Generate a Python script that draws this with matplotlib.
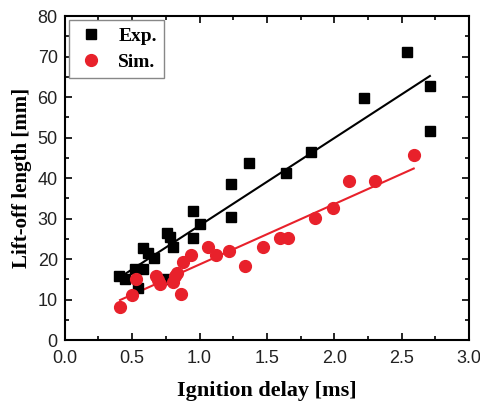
import matplotlib
matplotlib.use("Agg")
import matplotlib.pyplot as plt
import numpy as np
from matplotlib.ticker import MultipleLocator

exp_x = [2.54, 2.71, 2.71, 2.22, 1.83, 1.64, 1.37, 1.23, 1.23, 0.95, 1.00, 0.95,
         0.76, 0.78, 0.80, 0.58, 0.62, 0.66, 0.52, 0.58, 0.40, 0.45, 0.54, 0.74]
exp_y = [71.1, 62.7, 51.6, 59.8, 46.4, 41.2, 43.7, 38.5, 30.4, 31.9, 28.6, 25.2,
         26.4, 25.4, 23.0, 22.7, 21.5, 20.2, 17.5, 17.5, 15.8, 15.2, 12.8, 15.0]
sim_x = [0.41, 0.50, 0.53, 0.68, 0.69, 0.71, 0.80, 0.82, 0.83, 0.86, 0.88, 0.94,
         1.06, 1.12, 1.22, 1.34, 1.47, 1.60, 1.66, 1.86, 1.99, 2.11, 2.30, 2.59]
sim_y = [8.1, 11.1, 15.2, 15.8, 14.8, 13.8, 14.3, 15.8, 16.5, 11.4, 19.3, 21.0,
         23.0, 21.0, 22.0, 18.3, 23.0, 25.2, 25.2, 30.1, 32.6, 39.3, 39.3, 45.7]

exp_fit = [21.6, 6.7]   # slope, intercept
sim_fit = [14.9, 3.8]

x_ticks = [0.0, 0.5, 1.0, 1.5, 2.0, 2.5, 3.0]
x_ticklabels = ["0.0", "0.5", "1.0", "1.5", "2.0", "2.5", "3.0"]
y_ticks = [0, 10, 20, 30, 40, 50, 60, 70, 80]

red = "#e8212b"

fig = plt.figure(figsize=(4.8, 4.05), dpi=100)
ax = fig.add_axes([0.135, 0.160, 0.842, 0.800])

ex = np.array([min(exp_x), max(exp_x)])
sx = np.array([min(sim_x), max(sim_x)])
ax.plot(ex, np.polyval(exp_fit, ex), color="black", lw=1.5, zorder=2)
ax.plot(sx, np.polyval(sim_fit, sx), color=red, lw=1.5, zorder=2)

ax.plot(exp_x, exp_y, ls="none", marker="s", ms=7, color="black", label="Exp.", zorder=3)
ax.plot(sim_x, sim_y, ls="none", marker="o", ms=8.5, color=red, mec=red, label="Sim.", zorder=4)

ax.set_xlim(0, 3.0)
ax.set_ylim(0, 80)
ax.set_xticks(x_ticks)
ax.set_xticklabels(x_ticklabels)
ax.set_yticks(y_ticks)
ax.xaxis.set_minor_locator(MultipleLocator(0.25))
ax.yaxis.set_minor_locator(MultipleLocator(5))
ax.tick_params(which="both", direction="in", top=True, right=True, width=1.2)
ax.tick_params(which="major", length=5, labelsize=13)
ax.tick_params(axis="x", which="major", pad=7)
ax.tick_params(axis="y", which="major", pad=5)
ax.tick_params(which="minor", length=3)
for lab in ax.get_xticklabels() + ax.get_yticklabels():
    lab.set_family("Liberation Sans")
    lab.set_color("#222222")
for s in ax.spines.values():
    s.set_linewidth(1.5)

ax.set_xlabel("Ignition delay [ms]", family="Liberation Serif", fontweight="bold", fontsize=16, labelpad=10)
ax.set_ylabel("Lift-off length [mm]", family="Liberation Serif", fontweight="bold", fontsize=15, labelpad=4)

leg = ax.legend(loc="upper left", prop={"family": "Liberation Serif", "weight": "bold", "size": 14},
                fancybox=False, edgecolor="#888888", framealpha=1, handletextpad=0.6,
                borderpad=0.35, labelspacing=0.45, handlelength=1.6, borderaxespad=0.2)
leg.get_frame().set_linewidth(1.0)

fig.savefig("out.png", dpi=100)
